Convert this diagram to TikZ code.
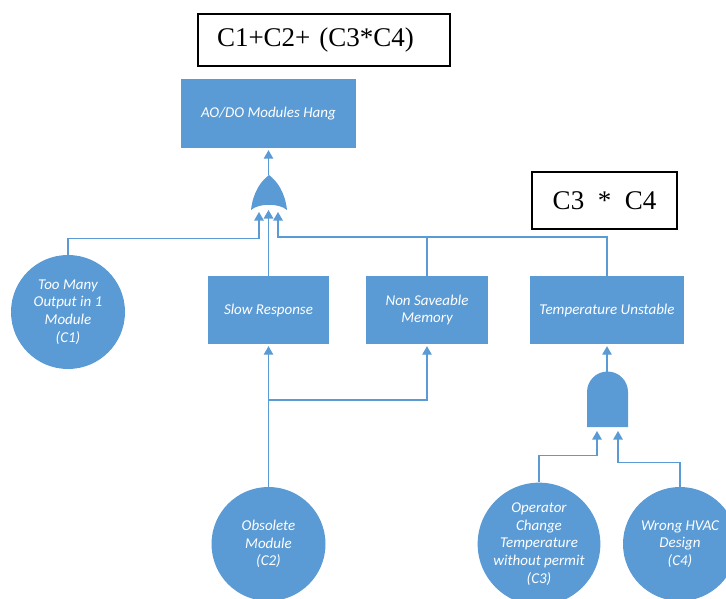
\documentclass[tikz,border=0pt]{standalone}
\usepackage{fontspec}
\setmainfont{Liberation Serif}
\newfontfamily\calibri{Carlito}
\usetikzlibrary{arrows.meta}
\definecolor{faultblue}{RGB}{91,155,213}
\tikzset{
  event/.style={rectangle, fill=faultblue, text=white, align=center, inner sep=0pt,
    font=\calibri\itshape\fontsize{15}{17.7}\selectfont},
  cause/.style={event, circle, minimum size=114pt},
  link/.style={faultblue, line width=1.1pt},
  arr/.style={link, -{Triangle[width=9.5pt,length=8.5pt]}, shorten >=2pt},
  formula/.style={draw=black, line width=1.6pt, inner sep=0pt, font=\fontsize{27}{30}\selectfont}
}

\begin{document}
\begin{tikzpicture}[x=1pt, y=-1pt]
    \useasboundingbox (0,0) rectangle (726,599);
    \clip (0,0) rectangle (726,599);

    % boolean expressions
    \node[formula, minimum height=52pt, inner xsep=19pt, text width=214pt, align=left] (total) at (324,40) {C1+C2+ (C3*C4)};
    \node[formula, minimum width=145pt, minimum height=57pt] (both) at (604.5,200.5) {C3\hspace{0.5em}*\hspace{0.5em}C4};

    % events
    \node[event, minimum width=175pt, minimum height=69pt] (hang) at (268.5,113.5) {AO/DO Modules Hang};
    \node[event, minimum width=121pt, minimum height=68pt] (slow) at (268.5,310) {Slow Response};
    \node[event, minimum width=122pt, minimum height=68pt] (mem) at (427,310) {Non Saveable\\Memory};
    \node[event, minimum width=154pt, minimum height=68pt] (temp) at (607,310) {Temperature Unstable};

    % basic causes
    \node[cause] (c1) at (68,312) {Too Many\\Output in 1\\Module\\(C1)};
    \node[cause] (c2) at (268.5,544) {Obsolete\\Module\\(C2)};
    \node[cause] (c3) at (539,544) {Operator\\Change\\Temperature\\without permit\\(C3)};
    \node[cause] (c4) at (680,544) {Wrong HVAC\\Design\\(C4)};

    % or gate
    \fill[faultblue] (251,210) .. controls (253,192) and (261,181) .. (269,175)
        .. controls (277,181) and (285,192) .. (287,210)
        .. controls (279,203) and (259,203) .. (251,210) -- cycle;
    \coordinate (orout) at (268.5,175);
    \coordinate (or1) at (259,210);
    \coordinate (or2) at (268.5,208);
    \coordinate (or3) at (278,210);
    \coordinate (rbus) at (278,237);

    % and gate
    \fill[faultblue] (587,427) -- (587,392) arc[start angle=180, end angle=360, radius=20.5] -- (628,427) -- cycle;
    \coordinate (andout) at (607,372);
    \coordinate (and1) at (597,429);
    \coordinate (and2) at (618,429);

    \draw[arr] (orout) -- (hang.south);
    \draw[arr] (c1.north) -- ++(0,-16) -| (or1);
    \draw[arr] (slow.north) -- (or2);
    \draw[arr] (temp.north) |- (rbus) -- (or3);
    \draw[link] (mem.north) -- (mem.north |- rbus);

    \coordinate (midbus) at (268.5,400);
    \draw[arr] (c2.north) -- (slow.south);
    \draw[arr] (midbus) -| (mem.south);

    \draw[arr] (andout) -- (temp.south);
    \draw[arr] (c3.north) -- ++(0,-27) -| (and1);
    \draw[arr] (c4.north) -- ++(0,-24) -| (and2);

\end{tikzpicture}
\end{document}
